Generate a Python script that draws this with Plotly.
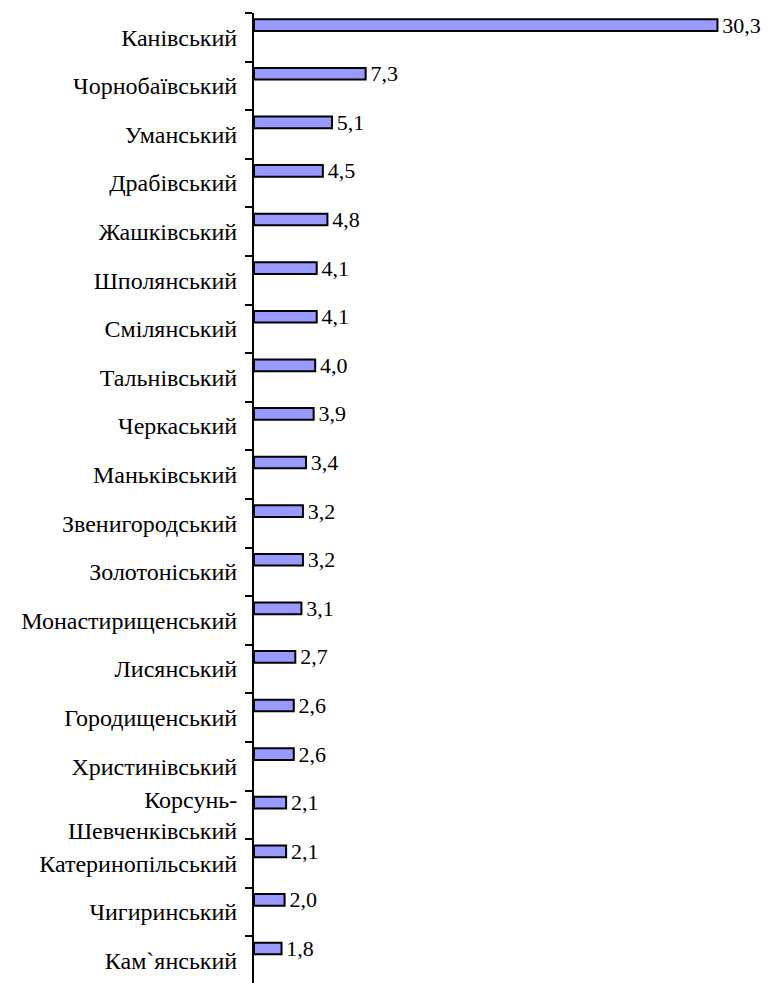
import plotly.graph_objects as go

districts = ["Канівський", "Чорнобаївський", "Уманський", "Драбівський", "Жашківський",
             "Шполянський", "Смілянський", "Тальнівський", "Черкаський", "Маньківський",
             "Звенигородський", "Золотоніський", "Монастирищенський", "Лисянський",
             "Городищенський", "Христинівський", "Корсунь-<br>Шевченківський",
             "Катеринопільський", "Чигиринський", "Кам`янський"]
values = [30.3, 7.3, 5.1, 4.5, 4.8, 4.1, 4.1, 4.0, 3.9, 3.4,
          3.2, 3.2, 3.1, 2.7, 2.6, 2.6, 2.1, 2.1, 2.0, 1.8]
labels = ["\u200a" + f"{v:.1f}".replace(".", ",") for v in values]

FONT = "Liberation Serif"

fig = go.Figure(go.Bar(
    x=values, y=districts, orientation="h",
    width=0.24, offset=-0.37,
    marker=dict(color="#9999FF", line=dict(color="black", width=2)),
    text=labels, textposition="outside", cliponaxis=False,
    constraintext="none",
    textfont=dict(family=FONT, size=22, color="black"),
))

fig.update_layout(
    width=763, height=975,
    margin=dict(l=246, r=0, t=5, b=0),
    plot_bgcolor="white", paper_bgcolor="white",
    showlegend=False,
    font=dict(family=FONT, size=24, color="black"),
    xaxis=dict(range=[0, 33.8], visible=False, fixedrange=True),
    yaxis=dict(
        type="category", range=[19.46, -0.5],
        showline=True, linecolor="black", linewidth=2,
        ticks="outside", ticklen=7, tickwidth=2, tickcolor="black",
        tickson="boundaries", showgrid=False, zeroline=False,
        ticklabelstandoff=10, automargin=False,
        tickfont=dict(family=FONT, size=24, color="black"),
    ),
)

fig.write_html("out.html")
